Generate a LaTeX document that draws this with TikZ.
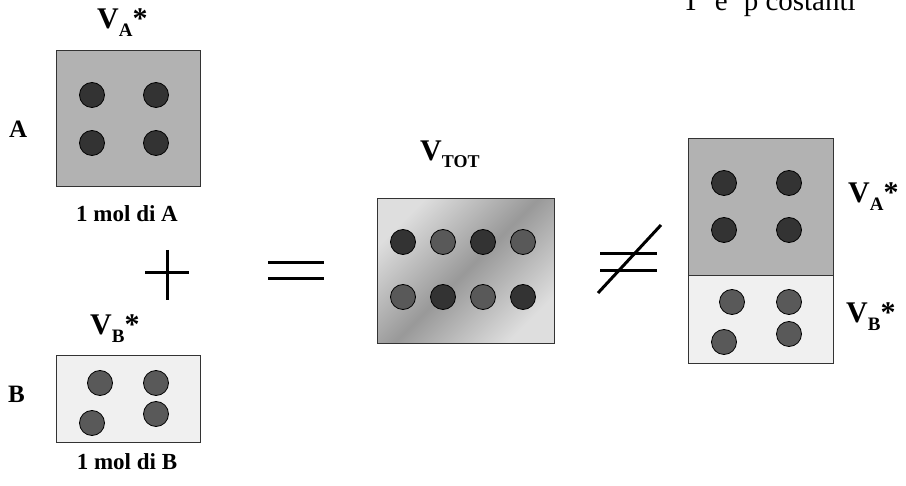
\documentclass[tikz,border=0pt]{standalone}
\usepackage{fontspec}
\setmainfont{Liberation Serif}
\usepackage{tikz}
\usetikzlibrary{positioning}

% volume label: V with subscript and star
\newcommand{\vstar}[1]{V\raisebox{-8pt}{\fontsize{19}{19}\selectfont #1}*}

\begin{document}
\begin{tikzpicture}[
  x=1pt, y=-1pt,
  box/.style={draw=black!80, line width=0.9pt, anchor=north west, inner sep=0pt},
  dot/.style={circle, draw=black, line width=0.8pt, minimum size=25pt, inner sep=0pt},
  dkdot/.style={dot, fill=black!80},
  mddot/.style={dot, fill=black!65},
  lbl/.style={font=\bfseries\fontsize{23}{23}\selectfont, inner sep=0pt},
  vlbl/.style={font=\bfseries\fontsize{30}{30}\selectfont, inner sep=0pt},
  sym/.style={line width=3pt}
]
\useasboundingbox (0,0) rectangle (906,486);

% conditions
\node[anchor=base west, inner sep=0pt, font=\fontsize{29}{29}\selectfont] (cond) at (682,11)
  {T\hspace{15pt}e\hspace{16pt}p costanti};

% pure A
\node[box, fill=black!30, minimum width=144pt, minimum height=136pt] (boxA) at (56,50) {};
\node[dkdot] (a1) at (92,95) {};
\node[dkdot] (a2) at (156,95) {};
\node[dkdot] (a3) at (92,143) {};
\node[dkdot] (a4) at (156,143) {};
\node[vlbl, anchor=base west] (vA) at (97,29) {\vstar{A}};
\node[lbl, font=\bfseries\fontsize{25}{25}\selectfont, anchor=base west] (labA) at (9,138) {A};
\node[lbl, anchor=base] (molA) at (127,222) {1 mol di A};

% pure B
\node[box, fill=black!6, minimum width=144pt, minimum height=87pt] (boxB) at (56,355) {};
\node[mddot] (b1) at (100,383) {};
\node[mddot] (b2) at (156,383) {};
\node[mddot] (b3) at (92,423) {};
\node[mddot] (b4) at (156,414) {};
\node[vlbl, anchor=base west] (vB) at (90,335) {\vstar{B}};
\node[lbl, font=\bfseries\fontsize{25}{25}\selectfont, anchor=base west] (labB) at (8,403) {B};
\node[lbl, anchor=base] (molB) at (127,470) {1 mol di B};

% plus and equals
\draw[sym] (145,273) -- (189,273);
\draw[sym] (167,250) -- (167,300);
\draw[sym] (268,263) -- (324,263);
\draw[sym] (268,279) -- (324,279);

% mixture
\node[box, minimum width=177pt, minimum height=145pt,
  top color=black!13, bottom color=black!13, middle color=black!40, shading angle=45] (boxM) at (377,198) {};
\node[dkdot] (m1) at (403,242) {};
\node[mddot] (m2) at (443,242) {};
\node[dkdot] (m3) at (483,242) {};
\node[mddot] (m4) at (523,242) {};
\node[mddot] (m5) at (403,297) {};
\node[dkdot] (m6) at (443,297) {};
\node[mddot] (m7) at (483,297) {};
\node[dkdot] (m8) at (523,297) {};
\node[vlbl, anchor=base west] (vTot) at (420,161) {V\raisebox{-7pt}{\fontsize{18}{18}\selectfont TOT}};

% not equal
\draw[sym] (600,254) -- (657,254);
\draw[sym] (600,271) -- (657,271);
\draw[sym] (598,293) -- (661,225);

% ideal volumes stacked
\node[box, fill=black!30, minimum width=145pt, minimum height=137pt] (boxRA) at (688,138) {};
\node[box, fill=black!6, minimum width=145pt, minimum height=88pt] (boxRB) at (688,275) {};
\node[dkdot] (r1) at (724,183) {};
\node[dkdot] (r2) at (789,183) {};
\node[dkdot] (r3) at (724,230) {};
\node[dkdot] (r4) at (789,230) {};
\node[mddot] (s1) at (732,302) {};
\node[mddot] (s2) at (789,302) {};
\node[mddot] (s3) at (724,342) {};
\node[mddot] (s4) at (789,334) {};
\node[vlbl, anchor=base west] (vRA) at (848,203) {\vstar{A}};
\node[vlbl, anchor=base west] (vRB) at (846,323) {\vstar{B}};
\end{tikzpicture}
\end{document}
